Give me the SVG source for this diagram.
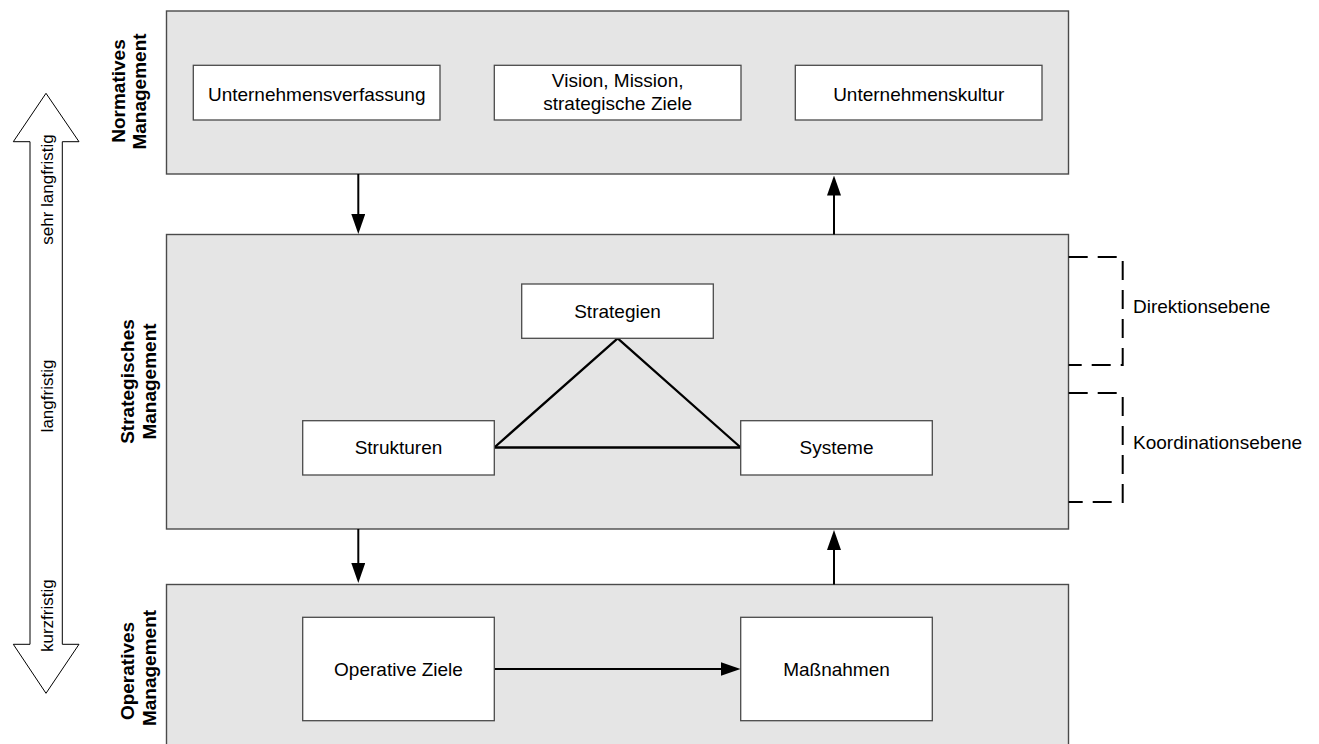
<svg xmlns="http://www.w3.org/2000/svg" width="1319" height="744" viewBox="0 0 1319 744">
  <style>
    text { font-family: "Liberation Sans", Arial, sans-serif; fill: #000; }
    .lbl { font-size: 19px; text-anchor: middle; }
    .side { font-size: 19px; text-anchor: start; }
    .level { font-size: 19px; font-weight: bold; text-anchor: middle; }
    .term { font-size: 17px; text-anchor: middle; }
    .panel { fill: #e5e5e5; stroke: #4a4a4a; stroke-width: 1.4; }
    .box { fill: #fff; stroke: #4a4a4a; stroke-width: 1.3; }
    .flow { stroke: #000; stroke-width: 2; fill: none; }
    .tri { stroke: #000; stroke-width: 2.3; fill: none; stroke-linecap: round; }
    .bracket { stroke: #000; stroke-width: 2; fill: none; stroke-dasharray: 19 10; }
    .horizon { fill: #fff; stroke: #000; stroke-width: 1; }
  </style>
  <defs>
    <marker id="head" markerUnits="userSpaceOnUse" markerWidth="20" markerHeight="14" refX="16" refY="7" orient="auto" viewBox="0 0 20 14">
      <path d="M0,0 L20,7 L0,14 z" fill="#000"/>
    </marker>
  </defs>

  <!-- time horizon double arrow -->
  <g id="time-horizon">
    <polygon class="horizon" points="46,93.3 79,141.7 62.3,141.7 62.3,644.3 79,644.3 46,693.3 13.3,644.3 30,644.3 30,141.7 13.3,141.7"/>
    <text class="term" transform="translate(52.5,189.5) rotate(-90)">sehr langfristig</text>
    <text class="term" transform="translate(52.5,396) rotate(-90)">langfristig</text>
    <text class="term" transform="translate(52.5,615.7) rotate(-90)">kurzfristig</text>
  </g>

  <!-- management levels -->
  <g id="normatives-management">
    <rect class="panel" x="166.5" y="11" width="902" height="163"/>
    <text class="level" transform="translate(124.5,91) rotate(-90)">Normatives</text>
    <text class="level" transform="translate(146,91.5) rotate(-90)">Management</text>
  </g>
  <g id="strategisches-management">
    <rect class="panel" x="166.5" y="234.5" width="902" height="294.5"/>
    <text class="level" transform="translate(134,381.5) rotate(-90)">Strategisches</text>
    <text class="level" transform="translate(156,381.5) rotate(-90)">Management</text>
  </g>
  <g id="operatives-management">
    <rect class="panel" x="166.5" y="584.5" width="902" height="200"/>
    <text class="level" transform="translate(133.5,671) rotate(-90)">Operatives</text>
    <text class="level" transform="translate(155.5,668) rotate(-90)">Management</text>
  </g>

  <!-- level brackets -->
  <g id="direktionsebene">
    <path class="bracket" d="M1068.7,257 H1122.7 V365 H1068.7"/>
    <text class="side" x="1133" y="312.7">Direktionsebene</text>
  </g>
  <g id="koordinationsebene">
    <path class="bracket" d="M1068.7,393 H1122.7 V502 H1068.7"/>
    <text class="side" x="1133" y="448.7">Koordinationsebene</text>
  </g>

  <!-- connectors -->
  <g id="connectors">
    <line class="flow" x1="358.3" y1="174" x2="358.3" y2="230" marker-end="url(#head)"/>
    <line class="flow" x1="834" y1="234.5" x2="834" y2="179.5" marker-end="url(#head)"/>
    <line class="flow" x1="358.3" y1="529" x2="358.3" y2="579" marker-end="url(#head)"/>
    <line class="flow" x1="834" y1="584.5" x2="834" y2="534" marker-end="url(#head)"/>
    <line class="flow" x1="494.3" y1="669" x2="736.5" y2="669" marker-end="url(#head)"/>
    <line class="tri" x1="617.7" y1="338.3" x2="494.3" y2="447.5"/>
    <line class="tri" x1="617.7" y1="338.3" x2="740.7" y2="447.5"/>
    <line class="tri" x1="494.3" y1="447.5" x2="740.7" y2="447.5"/>
  </g>

  <!-- normative elements -->
  <g id="unternehmensverfassung">
    <rect class="box" x="193.3" y="65.3" width="246.7" height="54.7"/>
    <text class="lbl" x="316.7" y="100.5">Unternehmensverfassung</text>
  </g>
  <g id="vision-mission">
    <rect class="box" x="494.3" y="65.3" width="246.7" height="54.7"/>
    <text class="lbl" x="617.7" y="87.3">Vision, Mission,</text>
    <text class="lbl" x="617.7" y="110">strategische Ziele</text>
  </g>
  <g id="unternehmenskultur">
    <rect class="box" x="795.3" y="65.3" width="246.7" height="54.7"/>
    <text class="lbl" x="918.7" y="100.5">Unternehmenskultur</text>
  </g>

  <!-- strategic elements -->
  <g id="strategien">
    <rect class="box" x="521.7" y="284" width="191.6" height="54.3"/>
    <text class="lbl" x="617.5" y="317.7">Strategien</text>
  </g>
  <g id="strukturen">
    <rect class="box" x="302.7" y="420.7" width="191.6" height="54.3"/>
    <text class="lbl" x="398.5" y="454.3">Strukturen</text>
  </g>
  <g id="systeme">
    <rect class="box" x="740.7" y="420.7" width="191.6" height="54.3"/>
    <text class="lbl" x="836.5" y="454.3">Systeme</text>
  </g>

  <!-- operative elements -->
  <g id="operative-ziele">
    <rect class="box" x="302.7" y="617.3" width="191.6" height="103.4"/>
    <text class="lbl" x="398.5" y="675.7">Operative Ziele</text>
  </g>
  <g id="massnahmen">
    <rect class="box" x="740.7" y="617.3" width="191.6" height="103.4"/>
    <text class="lbl" x="836.5" y="675.7">Maßnahmen</text>
  </g>
</svg>
